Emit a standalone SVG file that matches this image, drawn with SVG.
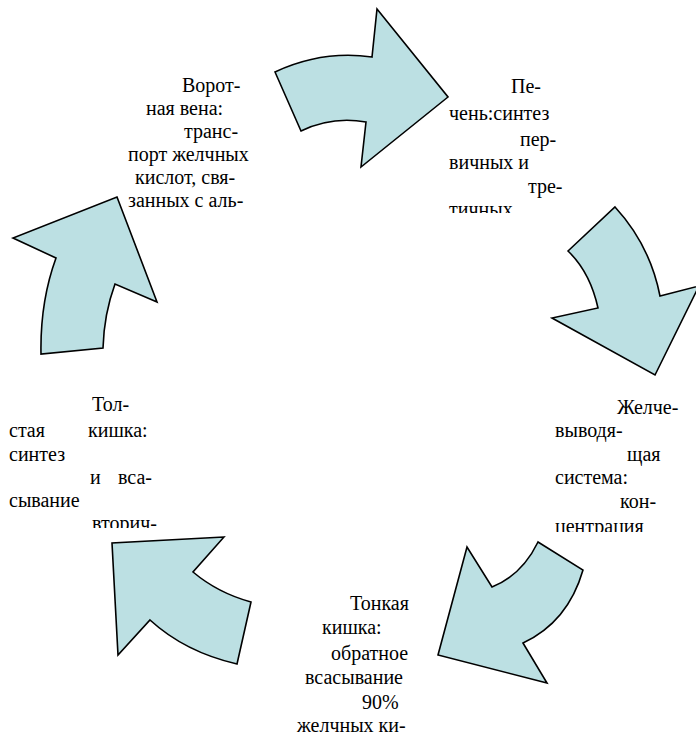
<svg xmlns="http://www.w3.org/2000/svg" width="696" height="734" viewBox="0 0 696 734">
<style>
.arrow{fill:#BCE0E3;stroke:#000;stroke-width:1.6;stroke-linejoin:miter}
text{font-family:'Liberation Serif','Times New Roman','DejaVu Serif',serif;font-size:20px;fill:#000}
</style>
<defs>
<clipPath id="c1"><rect x="100" y="60" width="170" height="152"/></clipPath>
<clipPath id="c2"><rect x="430" y="60" width="150" height="153"/></clipPath>
<clipPath id="c3"><rect x="540" y="380" width="156" height="152"/></clipPath>
<clipPath id="c5"><rect x="0" y="380" width="180" height="148"/></clipPath>
</defs>
<rect width="696" height="734" fill="#fff"/>
<g id="portal-vein" clip-path="url(#c1)">
<text x="182" y="92">Ворот-</text>
<text x="146" y="115">ная вена:</text>
<text x="184" y="138">транс-</text>
<text x="128" y="161">порт желчных</text>
<text x="135" y="184">кислот, свя-</text>
<text x="128" y="207">занных с аль-</text>
</g>
<g id="liver" clip-path="url(#c2)">
<text x="511" y="93">Пе-</text>
<text x="449" y="120">чень:синтез</text>
<text x="520" y="146">пер-</text>
<text x="449" y="169">вичных и</text>
<text x="528" y="193">тре-</text>
<text x="449" y="216">тичных</text>
</g>
<g id="bile-ducts" clip-path="url(#c3)">
<text x="617" y="414">Желче-</text>
<text x="555" y="437">выводя-</text>
<text x="627" y="461">щая</text>
<text x="555" y="484">система:</text>
<text x="620" y="508">кон-</text>
<text x="555" y="533">центрация</text>
</g>
<g id="small-intestine">
<text x="350" y="610">Тонкая</text>
<text x="322" y="634">кишка:</text>
<text x="331" y="660">обратное</text>
<text x="305" y="684">всасывание</text>
<text x="362" y="709">90%</text>
<text x="297" y="732">желчных ки-</text>
</g>
<g id="large-intestine" clip-path="url(#c5)">
<text x="92" y="411">Тол-</text>
<text x="9" y="437">стая</text>
<text x="88" y="437">кишка:</text>
<text x="9" y="461">синтез</text>
<text x="90" y="484">и</text>
<text x="118" y="484">вса-</text>
<text x="9" y="507">сывание</text>
<text x="92" y="530">вторич-</text>
</g>
<g id="connectors">
<path class="arrow" d="M275,72 Q322,50 372,57 L377,9 L448,97 L361,167 L366,122 Q332,116 301,131 Z"/>
<path class="arrow" d="M568,251 L615,207 Q650,245 660,296 L699,286 L655,375 L552,318 L598,308 Q590,272 568,251 Z"/>
<path class="arrow" d="M538,542 L583,570 Q568,622 523,643 L547,683 L438,655 L467,547 L492,587 Q522,575 538,542 Z"/>
<path class="arrow" d="M224,537 L112,543 L118,655 L150,620 Q185,652 237,664 L251,602 Q218,593 193,572 Z"/>
<path class="arrow" d="M117,197 L157,302 L115,284 Q104,314 103,348 L41,354 Q40,302 56,258 L13,238 Z"/>
</g>
</svg>
